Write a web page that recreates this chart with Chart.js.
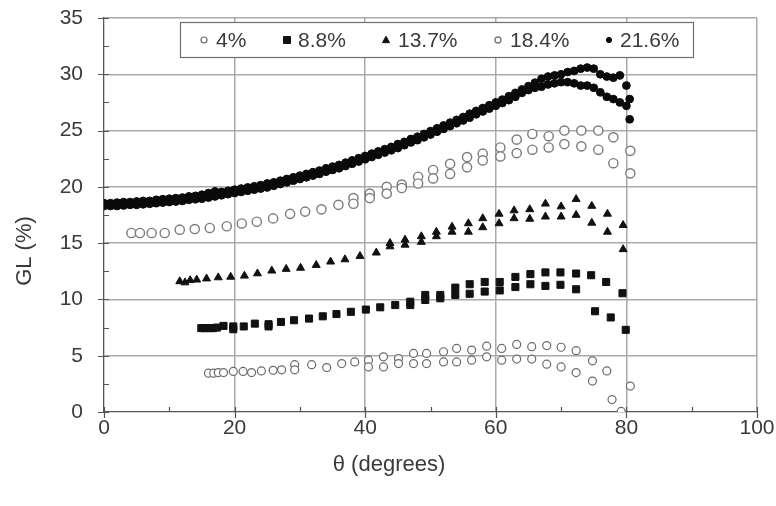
<!DOCTYPE html>
<html>
<head>
<meta charset="utf-8">
<script src="https://cdn.jsdelivr.net/npm/chart.js@4.4.1/dist/chart.umd.min.js"></script>
<style>
  html, body { margin: 0; padding: 0; background: #ffffff; }
  #c { display: block; }
</style>
</head>
<body>
<canvas id="c" width="776" height="506"></canvas>
<script>
// ---------------- data ----------------
const seriesLabels = ['4%', '8.8%', '13.7%', '18.4%', '21.6%'];

const theta4 = [16.0, 16.8, 17.5, 18.3, 19.8, 21.3, 22.6, 24.1, 25.9, 27.2, 29.2, 29.2, 31.8, 34.1, 36.4, 38.4,
  40.5, 40.5, 42.8, 42.8, 45.1, 45.1, 47.4, 47.4, 49.4, 49.4, 52.0, 52.0, 54.0, 54.0, 56.3, 56.3,
  58.6, 58.6, 60.9, 60.9, 63.2, 63.2, 65.5, 65.5, 67.8, 67.8, 70.0, 70.0, 72.3, 72.3, 74.8, 74.8,
  77.0, 77.8, 80.6, 79.2];
const gl4 = [3.45, 3.45, 3.5, 3.5, 3.6, 3.6, 3.5, 3.65, 3.7, 3.75, 4.2, 3.75, 4.2, 3.95, 4.3, 4.45,
  4.6, 4.0, 4.9, 4.0, 4.75, 4.3, 5.2, 4.3, 5.2, 4.3, 5.35, 4.45, 5.65, 4.45, 5.5, 4.6,
  5.85, 4.9, 5.65, 4.6, 6.0, 4.7, 5.8, 4.7, 5.9, 4.25, 5.75, 4.0, 5.45, 3.5, 4.55, 2.75,
  3.65, 1.1, 2.3, 0.05];

const theta88 = [14.9, 15.5, 16.1, 16.7, 17.3, 18.3, 19.8, 19.8, 21.4, 23.1, 25.2, 25.2, 27.1, 29.1, 31.4, 33.5,
  35.6, 37.8, 40.1, 42.3, 44.6, 46.9, 46.9, 49.2, 49.2, 51.5, 51.5, 53.8, 53.8, 56.0, 56.0,
  58.3, 58.3, 60.6, 60.6, 63.0, 63.0, 65.3, 65.3, 67.6, 67.6, 69.9, 69.9, 72.3, 72.3,
  74.6, 75.2, 76.9, 77.6, 79.4, 79.9];
const gl88 = [7.45, 7.45, 7.45, 7.45, 7.5, 7.65, 7.6, 7.35, 7.6, 7.85, 7.8, 7.6, 8.0, 8.15, 8.3, 8.5,
  8.7, 8.9, 9.1, 9.3, 9.5, 9.8, 9.5, 10.4, 9.95, 10.4, 10.1, 11.05, 10.4, 11.35, 10.5,
  11.55, 10.7, 11.55, 10.8, 12.0, 11.1, 12.25, 11.35, 12.4, 11.2, 12.4, 11.3, 12.3, 10.9,
  12.15, 8.95, 11.55, 8.4, 10.55, 7.3];

const theta137 = [11.6, 12.4, 13.2, 14.2, 15.7, 17.5, 19.4, 21.5, 23.5, 25.7, 27.9, 30.1, 32.5, 34.7, 36.9, 39.2,
  41.7, 43.8, 43.8, 46.1, 46.1, 48.6, 48.6, 50.9, 50.9, 53.3, 53.3, 55.8, 55.8, 58.0, 58.0,
  60.5, 60.5, 62.8, 62.8, 65.2, 65.2, 67.6, 67.6, 70.0, 70.0, 72.3, 72.3, 74.7, 74.7,
  77.1, 77.1, 79.5, 79.5];
const gl137 = [11.6, 11.5, 11.7, 11.75, 11.85, 11.95, 12.0, 12.1, 12.3, 12.55, 12.7, 12.8, 13.05, 13.35, 13.55, 13.85,
  14.15, 15.0, 14.7, 15.3, 14.85, 15.6, 15.1, 16.0, 15.6, 16.45, 16.0, 16.75, 16.0, 17.2, 16.4,
  17.6, 16.75, 17.9, 17.2, 18.0, 17.15, 18.5, 17.35, 18.25, 17.35, 18.9, 17.5, 18.3, 16.8,
  17.6, 16.0, 16.6, 14.45];

const theta184 = [4.2, 5.5, 7.3, 9.3, 11.6, 13.9, 16.2, 18.8, 21.1, 23.4, 25.9, 28.5, 30.8, 33.3, 35.9,
  38.2, 38.2, 40.7, 40.7, 43.3, 43.3, 45.6, 45.6, 48.1, 48.1, 50.4, 50.4, 53.0, 53.0, 55.6, 55.6,
  58.0, 58.0, 60.7, 60.7, 63.2, 63.2, 65.6, 65.6, 68.1, 68.1, 70.5, 70.5, 73.1, 73.1, 75.7, 75.7,
  78.0, 78.0, 80.6, 80.6];
const gl184 = [15.9, 15.9, 15.9, 15.9, 16.2, 16.25, 16.35, 16.5, 16.75, 16.9, 17.2, 17.6, 17.8, 18.0, 18.4,
  19.0, 18.5, 19.4, 19.0, 20.0, 19.4, 20.2, 19.9, 20.9, 20.3, 21.5, 20.75, 22.05, 21.15, 22.65, 21.75,
  22.95, 22.35, 23.5, 22.7, 24.2, 23.0, 24.7, 23.3, 24.5, 23.5, 25.0, 23.8, 25.0, 23.6, 25.0, 23.3,
  24.4, 22.1, 23.2, 21.2];

const theta216 = [0, 1, 2, 3, 4, 5, 6, 7, 8, 9, 10, 11, 12, 13, 14, 15, 16, 17, 18, 19, 20,
  21, 22, 23, 24, 25, 26, 27, 28, 29, 30, 31, 32, 33, 34, 35, 36, 37, 38, 39, 40,
  41, 42, 43, 44, 45, 46, 47, 48, 49, 50, 51, 52, 53, 54, 55, 56, 57, 58, 59, 60,
  61, 62, 63, 64, 65, 66, 67, 68, 69, 70, 71, 72, 73, 74, 75, 76, 77, 78, 79, 80, 80.5];
const gl216Upper = [18.55, 18.55, 18.6, 18.65, 18.65, 18.7, 18.75, 18.75, 18.85, 18.9, 18.95, 19.0, 19.05, 19.15, 19.2, 19.3, 19.45, 19.6, 19.55, 19.65, 19.75,
  19.85, 19.95, 20.05, 20.15, 20.3, 20.4, 20.55, 20.7, 20.85, 21.0, 21.15, 21.3, 21.45, 21.65, 21.8, 21.95, 22.15, 22.35, 22.55, 22.75,
  22.95, 23.15, 23.35, 23.55, 23.8, 24.0, 24.25, 24.45, 24.7, 24.95, 25.2, 25.45, 25.7, 25.95, 26.2, 26.5, 26.75, 27.0, 27.25, 27.5,
  27.75, 28.05, 28.35, 28.65, 28.95, 29.25, 29.6, 29.8, 29.9, 30.0, 30.2, 30.3, 30.5, 30.6, 30.5, 30.0, 29.8, 29.7, 29.9, 29.0, 27.8];
const gl216Lower = [18.3, 18.3, 18.3, 18.35, 18.4, 18.4, 18.45, 18.5, 18.55, 18.6, 18.65, 18.7, 18.75, 18.85, 18.9, 18.95, 19.05, 19.15, 19.25, 19.35, 19.45,
  19.55, 19.65, 19.75, 19.85, 19.95, 20.1, 20.25, 20.4, 20.55, 20.7, 20.85, 21.0, 21.15, 21.35, 21.5, 21.65, 21.85, 22.05, 22.25, 22.45,
  22.65, 22.85, 23.05, 23.25, 23.45, 23.7, 23.95, 24.15, 24.4, 24.65, 24.9, 25.15, 25.4, 25.65, 25.9, 26.15, 26.45, 26.7, 26.95, 27.2,
  27.45, 27.7, 28.0, 28.35, 28.6, 28.8, 28.9, 29.1, 29.2, 29.3, 29.3, 29.2, 29.0, 29.0, 28.8, 28.4, 28.0, 27.8, 27.5, 27.2, 26.0];

const xTitle = 'θ (degrees)';
const yTitle = 'GL (%)';
const xMin = 0, xMax = 100, xMajor = 20, xMinor = 10;
const yMin = 0, yMax = 35, yMajor = 5, yMinor = 2.5;

// ---------------- helpers ----------------
function pts(xs, ys) { return xs.map((x, i) => ({ x: x, y: ys[i] })); }
const FONT = "'Liberation Sans', Arial, sans-serif";

const styles = [
  { pointStyle: 'circle', radius: 4, bg: '#ffffff', border: '#6a6a6a', bw: 1.2 },
  { pointStyle: 'rect', radius: 5, bg: '#111111', border: '#111111', bw: 1 },
  { pointStyle: 'triangle', radius: 4.6, bg: '#111111', border: '#111111', bw: 1 },
  { pointStyle: 'circle', radius: 4.6, bg: '#ffffff', border: '#7a7a7a', bw: 1.4 },
  { pointStyle: 'circle', radius: 3.9, bg: '#0a0a0a', border: '#0a0a0a', bw: 1 }
];

function ds(label, data, st) {
  return {
    label: label, data: data, showLine: false,
    pointStyle: st.pointStyle, pointRadius: st.radius, pointHoverRadius: st.radius,
    backgroundColor: st.bg, borderColor: st.border, pointBorderWidth: st.bw
  };
}

const datasets = [
  ds(seriesLabels[0], pts(theta4, gl4), styles[0]),
  ds(seriesLabels[1], pts(theta88, gl88), styles[1]),
  ds(seriesLabels[2], pts(theta137, gl137), styles[2]),
  ds(seriesLabels[3], pts(theta184, gl184), styles[3]),
  ds(seriesLabels[4], pts(theta216, gl216Upper), styles[4]),
  ds(seriesLabels[4] + ' ', pts(theta216, gl216Lower), styles[4])
];

// ---------------- plugins ----------------
function drawMarker(ctx, style, x, y, r) {
  ctx.save();
  ctx.fillStyle = style.bg;
  ctx.strokeStyle = style.border;
  ctx.lineWidth = style.bw;
  ctx.beginPath();
  if (style.pointStyle === 'rect') {
    ctx.rect(x - r, y - r, 2 * r, 2 * r);
  } else if (style.pointStyle === 'triangle') {
    ctx.moveTo(x, y - r * 1.1);
    ctx.lineTo(x + r, y + r * 0.75);
    ctx.lineTo(x - r, y + r * 0.75);
    ctx.closePath();
  } else {
    ctx.arc(x, y, r, 0, Math.PI * 2);
  }
  ctx.fill();
  ctx.stroke();
  ctx.restore();
}

const legendBox = {
  id: 'legendBox',
  afterDraw(chart) {
    const ctx = chart.ctx;
    const left = 180.5, top = 22.5, right = 693.5, bottom = 57.5;
    ctx.save();
    ctx.fillStyle = '#ffffff';
    ctx.fillRect(left, top, right - left, bottom - top);
    ctx.strokeStyle = '#6e6e6e';
    ctx.lineWidth = 1.2;
    ctx.strokeRect(left, top, right - left, bottom - top);
    const markerX = [204, 287, 386, 498, 609];
    const textX = [216, 298, 398, 510, 620];
    const markerR = [3, 3.5, 3.5, 3, 2.6];
    const cy = 40;
    ctx.font = '21px ' + FONT;
    ctx.textBaseline = 'middle';
    ctx.textAlign = 'left';
    seriesLabels.forEach((lab, i) => {
      drawMarker(ctx, styles[i], markerX[i], cy, markerR[i]);
      ctx.fillStyle = '#3a3a3a';
      ctx.fillText(lab, textX[i], cy + 1);
    });
    ctx.restore();
  }
};

const axisDecor = {
  id: 'axisDecor',
  afterDatasetsDraw(chart) {
    const ctx = chart.ctx;
    const xs = chart.scales.x, ys = chart.scales.y;
    const area = chart.chartArea;
    ctx.save();
    ctx.strokeStyle = '#555555';
    ctx.lineWidth = 1.2;
    ctx.beginPath();
    for (let v = yMin; v <= yMax + 1e-9; v += yMinor) {
      const p = Math.round(ys.getPixelForValue(v)) + 0.5;
      const major = Math.abs(v / yMajor - Math.round(v / yMajor)) < 1e-6;
      ctx.moveTo(area.left - (major ? 6 : 0), p);
      ctx.lineTo(area.left + 5, p);
    }
    for (let v = xMin; v <= xMax + 1e-9; v += xMinor) {
      const p = Math.round(xs.getPixelForValue(v)) + 0.5;
      const major = Math.abs(v / xMajor - Math.round(v / xMajor)) < 1e-6;
      ctx.moveTo(p, area.bottom - 5);
      ctx.lineTo(p, area.bottom + (major ? 6 : 0));
    }
    ctx.stroke();
    // axis titles
    ctx.fillStyle = '#3a3a3a';
    ctx.font = '22px ' + FONT;
    ctx.textAlign = 'center';
    ctx.textBaseline = 'middle';
    ctx.fillText(xTitle, 389, 465);
    ctx.translate(25, 251);
    ctx.rotate(-Math.PI / 2);
    ctx.fillText(yTitle, 0, 0);
    ctx.restore();
  }
};

// ---------------- chart ----------------
new Chart(document.getElementById('c'), {
  type: 'scatter',
  data: { datasets: datasets },
  options: {
    responsive: false,
    animation: false,
    devicePixelRatio: 1,
    layout: { padding: { top: 18, right: 19, left: 0, bottom: 0 } },
    plugins: { legend: { display: false }, tooltip: { enabled: false } },
    scales: {
      x: {
        type: 'linear', min: xMin, max: xMax,
        afterFit(scale) {
          scale.height = 94;
          scale.paddingLeft = 0; scale.paddingRight = 0;
        },
        ticks: {
          stepSize: xMinor, autoSkip: false, maxRotation: 0, padding: 4,
          color: '#3a3a3a', font: { size: 21, family: FONT },
          callback: (v) => (Math.abs(v % xMajor) < 1e-6 ? String(v) : '')
        },
        grid: {
          drawTicks: false, lineWidth: 1.5,
          color: (c) => (c.tick && Math.abs(c.tick.value % xMajor) < 1e-6 && c.tick.value !== xMin ? '#a9a9a9' : 'rgba(0,0,0,0)')
        },
        border: { display: true, color: '#555555', width: 1.3 }
      },
      y: {
        type: 'linear', min: yMin, max: yMax,
        afterFit(scale) {
          scale.width = 104;
          scale.paddingTop = 0; scale.paddingBottom = 0;
        },
        ticks: {
          stepSize: yMinor, autoSkip: false, padding: 21,
          color: '#3a3a3a', font: { size: 21, family: FONT },
          callback: (v) => (Math.abs(v % yMajor) < 1e-6 ? String(v) : '')
        },
        grid: {
          drawTicks: false, lineWidth: 1.5,
          color: (c) => (c.tick && Math.abs(c.tick.value % yMajor) < 1e-6 && c.tick.value !== yMin ? '#a9a9a9' : 'rgba(0,0,0,0)')
        },
        border: { display: true, color: '#555555', width: 1.3 }
      }
    }
  },
  plugins: [axisDecor, legendBox]
});
</script>
</body>
</html>
